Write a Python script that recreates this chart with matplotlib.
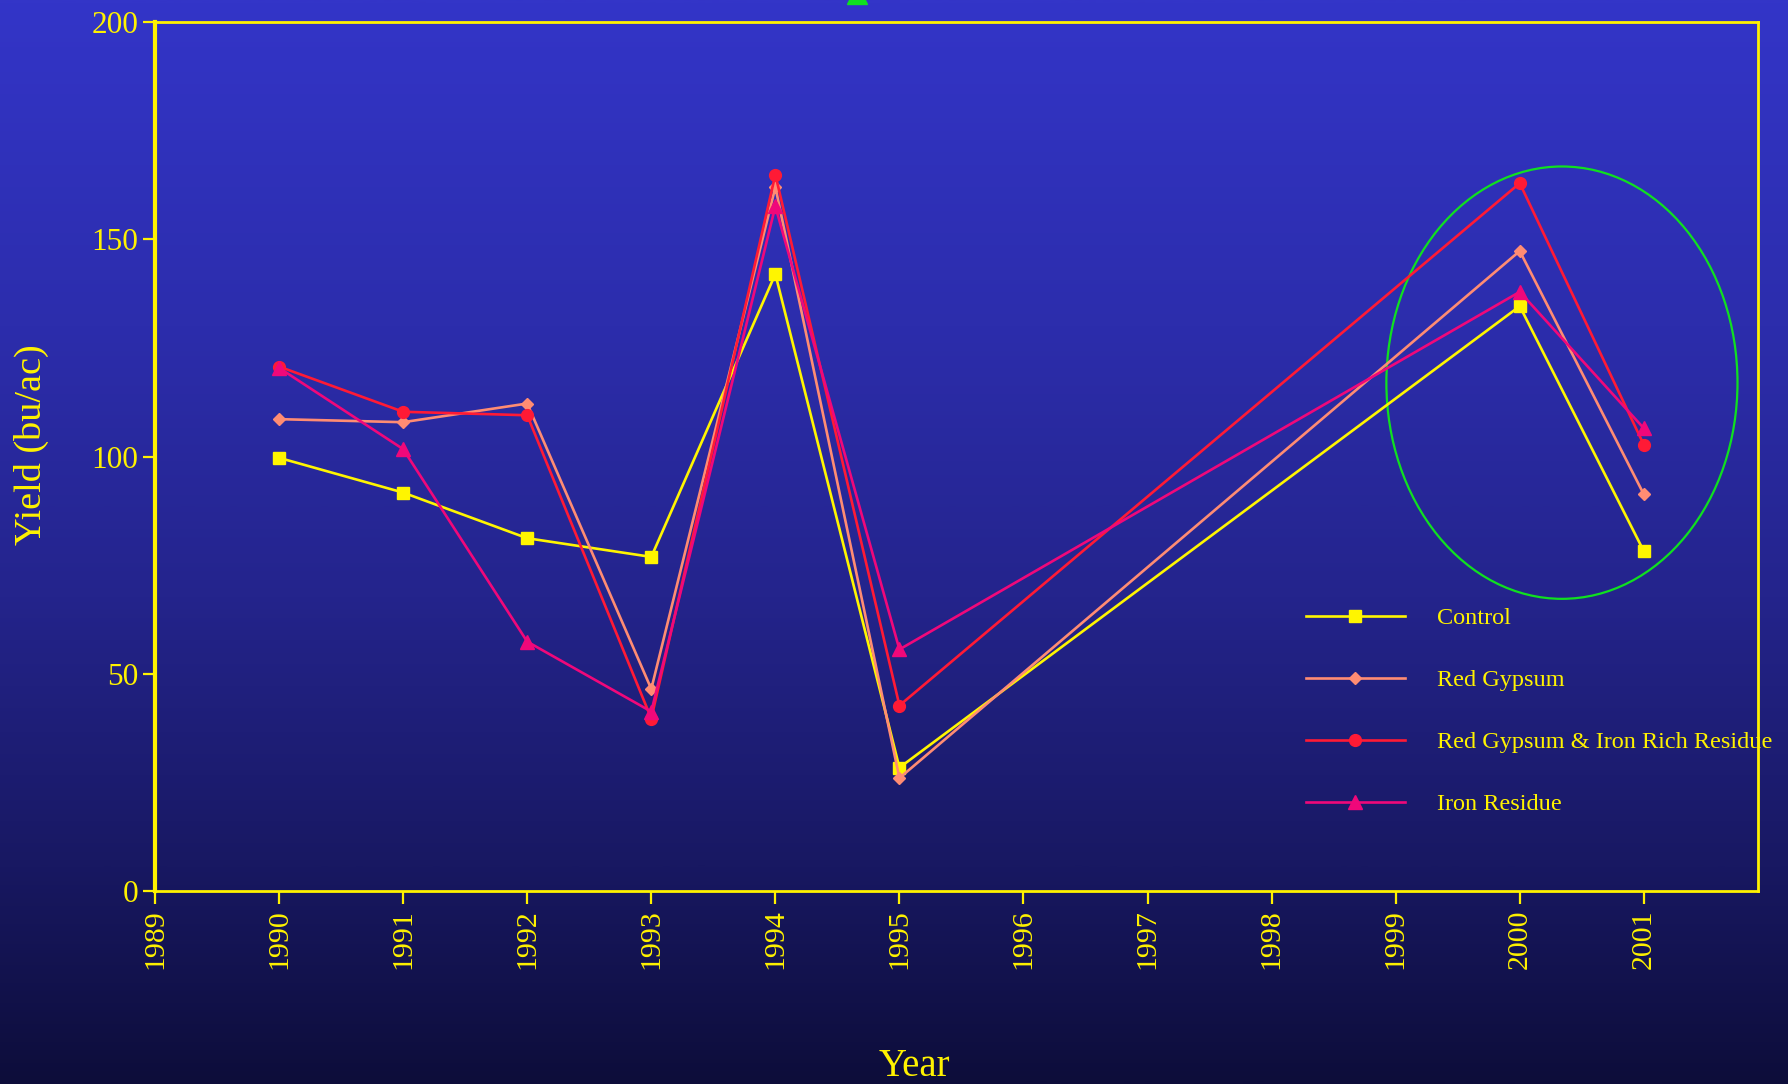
import numpy as np
import matplotlib
matplotlib.use("Agg")
import matplotlib.pyplot as plt
from matplotlib.patches import Ellipse
from matplotlib.colors import LinearSegmentedColormap

# Yield data by treatment (bu/ac)
years = [1990, 1991, 1992, 1993, 1994, 1995, 2000, 2001]
control = [99.7, 91.7, 81.2, 76.9, 142.0, 28.4, 134.6, 78.2]
red_gypsum = [108.6, 107.9, 112.2, 46.5, 162.0, 26.0, 147.3, 91.3]
red_gypsum_iron = [120.7, 110.3, 109.5, 39.7, 164.9, 42.7, 162.9, 102.7]
iron_residue = [120.4, 101.7, 57.4, 41.3, 157.6, 55.6, 137.9, 106.5]

series_labels = ["Control", "Red Gypsum", "Red Gypsum & Iron Rich Residue", "Iron Residue"]
x_ticks = list(range(1989, 2002))
y_ticks = [0, 50, 100, 150, 200]

TEXT = "#FFF200"
AXIS = "#FFF200"
GREEN = "#10E020"

plt.rcParams["font.family"] = ["Liberation Serif", "DejaVu Serif"]

fig = plt.figure(figsize=(17.88, 10.84), dpi=100)

# vertical gradient background
bg = fig.add_axes([0, 0, 1, 1], zorder=-10)
bg.set_axis_off()
stops = [
    (0.0, (13 / 255, 13 / 255, 58 / 255)),
    (0.2, (24 / 255, 24 / 255, 98 / 255)),
    (0.45, (36 / 255, 36 / 255, 140 / 255)),
    (0.7, (44 / 255, 45 / 255, 172 / 255)),
    (1.0, (51 / 255, 53 / 255, 200 / 255)),
]
cmap = LinearSegmentedColormap.from_list("bg", stops)
grad = np.linspace(0, 1, 512).reshape(-1, 1)
bg.imshow(grad, aspect="auto", cmap=cmap, origin="lower", extent=[0, 1, 0, 1])
bg.set_xlim(0, 1)
bg.set_ylim(0, 1)

ax = fig.add_axes([0.0867, 0.178, 0.8965, 0.8017])
ax.set_facecolor("none")

styles = [
    dict(color="#FFF500", marker="s", ms=9),
    dict(color="#FF8C73", marker="D", ms=6.5),
    dict(color="#FF1A35", marker="o", ms=8.5),
    dict(color="#F0087A", marker="^", ms=9.5),
]
for vals, lab, st in zip([control, red_gypsum, red_gypsum_iron, iron_residue], series_labels, styles):
    ax.plot(years, vals, color=st["color"], marker=st["marker"], markersize=st["ms"],
            markeredgecolor=st["color"], lw=1.9, label=lab, clip_on=False, zorder=3)

# highlight around the 2000-2001 seasons
ax.add_patch(Ellipse((2000.34, 117.0), 2.83, 99.5, fill=False, edgecolor=GREEN, lw=1.6, zorder=2))

# stray marker just above the plot frame
ax.plot([1994.66], [206.4], marker="^", markersize=14.5, color=GREEN, clip_on=False, zorder=3)

ax.set_xlim(1989, 2001.92)
ax.set_ylim(0, 200)
ax.set_xticks(x_ticks)
ax.set_xticklabels([str(y) for y in x_ticks], rotation=90)
ax.set_yticks(y_ticks)
ax.set_yticklabels([str(v) for v in y_ticks])

for side in ["top", "right", "bottom"]:
    ax.spines[side].set_color(AXIS)
    ax.spines[side].set_linewidth(2.0)
ax.spines["left"].set_color(AXIS)
ax.spines["left"].set_linewidth(3.0)

ax.tick_params(axis="both", colors=AXIS, direction="out", length=9, width=1.6,
               labelcolor=TEXT)
ax.tick_params(axis="x", pad=4, labelsize=21.5)
ax.tick_params(axis="y", pad=3, labelsize=22.5)

fig.text(31 / 1788, 1 - 445 / 1084, "Yield (bu/ac)", rotation=90, ha="center", va="center",
         fontsize=27.5, color=TEXT)
fig.text(914 / 1788, 1 - 1067 / 1084, "Year", ha="center", va="center", fontsize=28, color=TEXT)

leg = ax.legend(loc="upper left", bbox_to_anchor=(1306 / 1788, 1 - 607 / 1084),
                bbox_transform=fig.transFigure, frameon=False, fontsize=17.5,
                handlelength=4.07, handletextpad=1.3, labelspacing=1.65,
                borderpad=0, borderaxespad=0, numpoints=1)
for t in leg.get_texts():
    t.set_color(TEXT)

fig.savefig("out.png", dpi=100)
